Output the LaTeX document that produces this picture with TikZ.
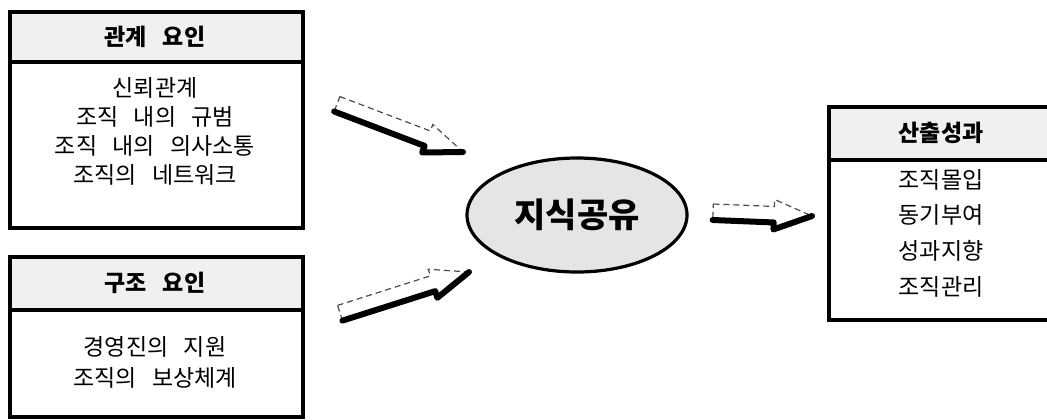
\documentclass[tikz,border=0pt]{standalone}
\usepackage{fontspec}
\setmainfont{Noto Sans CJK KR}[WordSpace=3]
\usetikzlibrary{calc,shapes.geometric}
\tikzset{
  frame/.style={draw=black,line width=2pt},
  sepline/.style={draw=black,line width=1.6pt},
  hdr/.style={fill=black!6},
  hd/.style={inner sep=0pt,font=\fontsize{11.5}{13}\selectfont\bfseries},
  bd/.style={inner sep=0pt,font=\fontsize{11.5}{13}\selectfont},
  ell/.style={ellipse,draw=black,line width=1.6pt,fill=black!10,minimum width=110pt,minimum height=57pt,inner sep=0pt,font=\fontsize{17}{20}\selectfont\bfseries},
  arrowout/.style={draw=black!70,densely dashed,line width=0.6pt,fill=white},
  arrowshade/.style={draw=black,line width=3pt,line join=round,line cap=round},
}
\newcommand\blockarrow[2]{%
  \coordinate (bah) at ($(#2)!19pt!(#1)$);
  \filldraw[arrowout] ($(#1)!4pt!90:(#2)$) -- ($(bah)!4pt!90:(#2)$) -- ($(bah)!7.5pt!90:(#2)$) -- (#2)
     -- ($(bah)!7.5pt!-90:(#2)$) -- ($(bah)!4pt!-90:(#2)$) -- ($(#1)!4pt!-90:(#2)$) -- cycle;
  \draw[arrowshade] ($(#1)!4pt!-90:(#2)$) -- ($(bah)!4pt!-90:(#2)$) -- ($(bah)!7.5pt!-90:(#2)$) -- (#2);
}
\begin{document}
\begin{tikzpicture}[x=0.5pt,y=-0.5pt]
\useasboundingbox (0,0) rectangle (1047,419);

% box 1
\fill[hdr] (10,12) rectangle (303,62);
\draw[frame] (10,12) rectangle (303,228);
\draw[sepline] (10,62) -- (303,62);
\node[hd] (h1) at (155,37) {관계 요인};
\node[bd] (b11) at (155,88) {신뢰관계};
\node[bd] (b12) at (155,117) {조직 내의 규범};
\node[bd] (b13) at (155,146) {조직 내의 의사소통};
\node[bd] (b14) at (155,175) {조직의 네트워크};

% box 2
\fill[hdr] (10,257) rectangle (303,310);
\draw[frame] (10,257) rectangle (303,417);
\draw[sepline] (10,310) -- (303,310);
\node[hd] (h2) at (155,283) {구조 요인};
\node[bd] (b21) at (155,347) {경영진의 지원};
\node[bd] (b22) at (155,378) {조직의 보상체계};

% box 3
\fill[hdr] (829,107) rectangle (1060,160);
\draw[frame] (829,107) rectangle (1060,320);
\draw[sepline] (829,160) -- (1060,160);
\node[hd] (h3) at (941,133) {산출성과};
\node[bd] (b31) at (941,180) {조직몰입};
\node[bd] (b32) at (941,215) {동기부여};
\node[bd] (b33) at (941,251) {성과지향};
\node[bd] (b34) at (941,287) {조직관리};

% centre
\node[ell] (ks) at (577,215) {지식공유};

% arrows
\coordinate (a1t) at (337,104);
\coordinate (a1p) at (463,152);
\coordinate (a2t) at (340,313);
\coordinate (a2p) at (469,272);
\coordinate (a3t) at (713,212);
\coordinate (a3p) at (812,216);
\blockarrow{a1t}{a1p}
\blockarrow{a2t}{a2p}
\blockarrow{a3t}{a3p}
\end{tikzpicture}
\end{document}
